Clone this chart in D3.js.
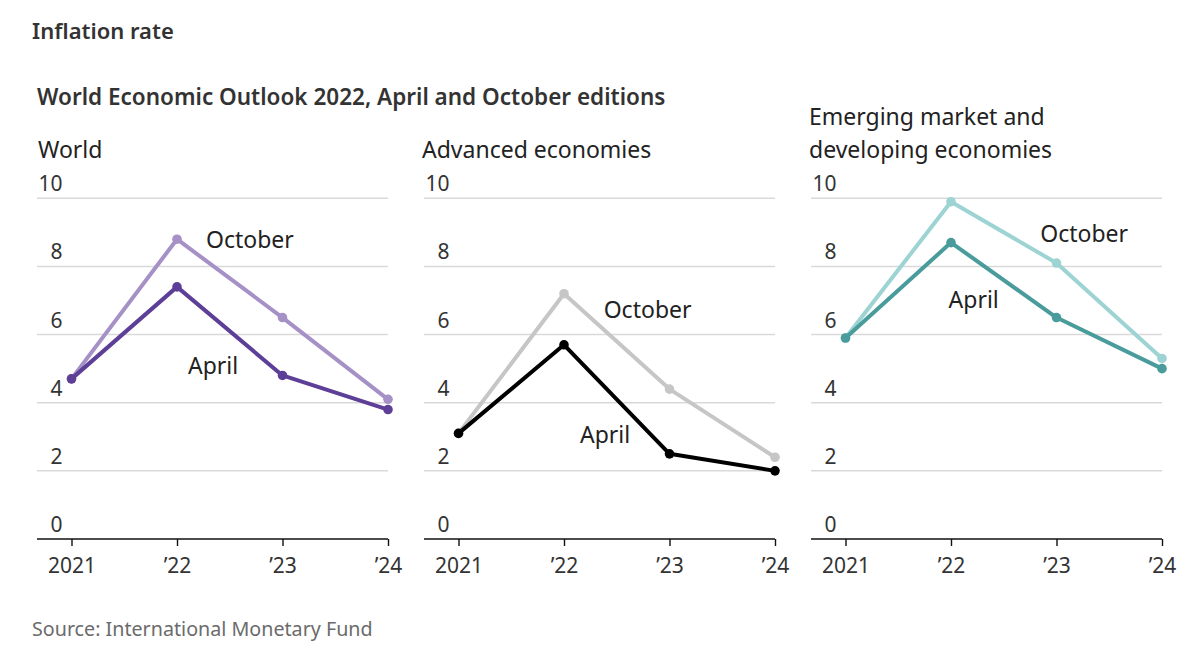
<!DOCTYPE html>
<html>
<head>
<meta charset="utf-8">
<script src="https://cdn.jsdelivr.net/npm/d3@7"></script>
<style>
  html, body { margin: 0; padding: 0; background: #fff; }
  svg { display: block; }
  text { font-family: "Noto Sans", "Open Sans", sans-serif; }
</style>
</head>
<body>
<svg id="chart" width="1200" height="658"></svg>
<script>
// ---- data ----
const years = ["2021", "\u201922", "\u201923", "\u201924"];
const yTicks = [0, 2, 4, 6, 8, 10];

const worldApril = [4.7, 7.4, 4.8, 3.8];
const worldOctober = [4.7, 8.8, 6.5, 4.1];
const advancedApril = [3.1, 5.7, 2.5, 2.0];
const advancedOctober = [3.1, 7.2, 4.4, 2.4];
const emergingApril = [5.9, 8.7, 6.5, 5.0];
const emergingOctober = [5.9, 9.9, 8.1, 5.3];

const panelTitles = [["World"], ["Advanced economies"], ["Emerging market and", "developing economies"]];
const seriesLabels = ["April", "October"];

// ---- layout / style ----
const W = 1200, H = 658;
const panels = [
  { left: 37,  april: worldApril,    october: worldOctober,    aprilColor: "#5e3f98", octColor: "#a591c6",
    octLabel: [1.275, 8.54], aprLabel: [1.104, 4.85] },
  { left: 424, april: advancedApril, october: advancedOctober, aprilColor: "#000000", octColor: "#c6c6c6",
    octLabel: [1.376, 6.49], aprLabel: [1.152, 2.82] },
  { left: 811, april: emergingApril, october: emergingOctober, aprilColor: "#4a9c9c", octColor: "#9dd3d3",
    octLabel: [1.846, 8.73], aprLabel: [0.977, 6.78] }
];
const panelW = 351;
const yTop = 198.3, yBottom = 539;

const svg = d3.select("#chart");

svg.append("text").attr("x", 32).attr("y", 39)
  .attr("font-size", 22).attr("font-weight", 600).attr("fill", "#333")
  .text("Inflation rate");

svg.append("text").attr("x", 37).attr("y", 105)
  .attr("font-size", 22.5).attr("font-weight", 600).attr("fill", "#333")
  .text("World Economic Outlook 2022, April and October editions");

svg.append("text").attr("x", 32).attr("y", 636)
  .attr("font-size", 19.7).attr("font-weight", 400).attr("fill", "#6b6b6b")
  .text("Source: International Monetary Fund");

const y = d3.scaleLinear().domain([0, 10]).range([yBottom, yTop]);

panels.forEach((p, i) => {
  const g = svg.append("g");
  const x = d3.scaleLinear().domain([0, years.length - 1]).range([p.left + 34.5, p.left + panelW]);

  // title
  const tl = panelTitles[i];
  tl.forEach((line, k) => {
    g.append("text")
      .attr("x", p.left + (i === 0 ? 1 : -2))
      .attr("y", 158 - (tl.length - 1 - k) * 33)
      .attr("font-size", 23).attr("fill", "#222")
      .text(line);
  });

  // gridlines
  g.selectAll("line.grid").data(yTicks.filter(d => d > 0)).enter().append("line")
    .attr("x1", p.left).attr("x2", p.left + panelW)
    .attr("y1", d => y(d)).attr("y2", d => y(d))
    .attr("stroke", "#d9d9d9").attr("stroke-width", 1.5);

  // y labels
  g.selectAll("text.ylab").data(yTicks).enter().append("text")
    .attr("x", p.left + 25.5).attr("y", d => y(d) - 7)
    .attr("text-anchor", "end").attr("font-size", 21).attr("fill", "#333")
    .text(d => d);

  // x axis
  const xAxis = d3.axisBottom(x).tickValues(d3.range(years.length))
    .tickFormat(d => years[d]).tickSize(7).tickSizeOuter(0);
  const ax = g.append("g").attr("transform", `translate(0,${yBottom})`).call(xAxis);
  ax.select(".domain").attr("d", `M${p.left},0H${p.left + panelW}`).attr("stroke", "#111").attr("stroke-width", 1.6);
  ax.selectAll(".tick line").attr("stroke", "#111").attr("stroke-width", 1.4);
  ax.selectAll(".tick text").attr("font-size", 21).attr("fill", "#333")
    .attr("font-family", "\"Noto Sans\", sans-serif").attr("dy", 0).attr("y", 34);

  const line = d3.line().x((d, j) => x(j)).y(d => y(d));

  [[p.october, p.octColor], [p.april, p.aprilColor]].forEach(([vals, col]) => {
    g.append("path").datum(vals).attr("d", line)
      .attr("fill", "none").attr("stroke", col).attr("stroke-width", 4)
      .attr("stroke-linejoin", "round");
    g.selectAll(null).data(vals).enter().append("circle")
      .attr("cx", (d, j) => x(j)).attr("cy", d => y(d)).attr("r", 4.8)
      .attr("fill", col);
  });

  // series labels
  g.append("text").attr("x", x(p.octLabel[0])).attr("y", y(p.octLabel[1]))
    .attr("font-size", 23).attr("fill", "#222").text(seriesLabels[1]);
  g.append("text").attr("x", x(p.aprLabel[0])).attr("y", y(p.aprLabel[1]))
    .attr("font-size", 23).attr("fill", "#222").text(seriesLabels[0]);
});
</script>
</body>
</html>
